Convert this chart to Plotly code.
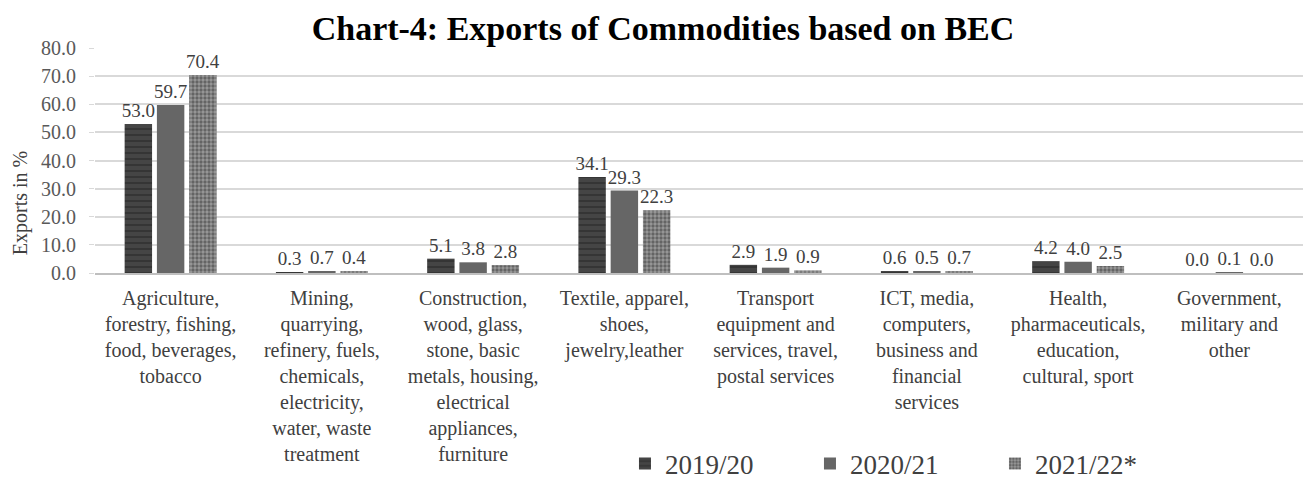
import plotly.graph_objects as go

categories = [
    "Agriculture,<br>forestry, fishing,<br>food, beverages,<br>tobacco",
    "Mining,<br>quarrying,<br>refinery, fuels,<br>chemicals,<br>electricity,<br>water, waste<br>treatment",
    "Construction,<br>wood, glass,<br>stone, basic<br>metals, housing,<br>electrical<br>appliances,<br>furniture",
    "Textile, apparel,<br>shoes,<br>jewelry,leather",
    "Transport<br>equipment and<br>services, travel,<br>postal services",
    "ICT, media,<br>computers,<br>business and<br>financial<br>services",
    "Health,<br>pharmaceuticals,<br>education,<br>cultural, sport",
    "Government,<br>military and<br>other",
]
y2019 = [53.0, 0.3, 5.1, 34.1, 2.9, 0.6, 4.2, 0.0]
y2020 = [59.7, 0.7, 3.8, 29.3, 1.9, 0.5, 4.0, 0.1]
y2021 = [70.4, 0.4, 2.8, 22.3, 0.9, 0.7, 2.5, 0.0]
series = ["2019/20", "2020/21", "2021/22*"]

serif = "Liberation Serif"
txt = dict(family=serif, size=19, color="#404040")

fig = go.Figure()
# 2019/20 - dark with horizontal streaks
fig.add_trace(go.Bar(
    x=categories, y=y2019, name=series[0],
    text=[f"{v:.1f}" for v in y2019], textposition="outside", textfont=txt,
    constraintext="none",
    marker=dict(color="#383838", line=dict(width=0),
                pattern=dict(shape="-", fgcolor="#202020", bgcolor="#454545",
                             size=6, solidity=0.3)),
    cliponaxis=False,
))
# 2020/21 - solid grey
fig.add_trace(go.Bar(
    x=categories, y=y2020, name=series[1],
    text=[f"{v:.1f}" for v in y2020], textposition="outside", textfont=txt,
    constraintext="none",
    marker=dict(color="#666666", line=dict(width=0)),
    cliponaxis=False,
))
# 2021/22* - speckled
fig.add_trace(go.Bar(
    x=categories, y=y2021, name=series[2],
    text=[f"{v:.1f}" for v in y2021], textposition="outside", textfont=txt,
    constraintext="none",
    marker=dict(color="#8a8a8a", line=dict(width=0),
                pattern=dict(shape=".", fgcolor="#2e2e2e", bgcolor="#9a9a9a",
                             size=4, solidity=0.55)),
    cliponaxis=False,
))

# page body has an 8px margin, so the figure is 8px smaller each way
fig.update_layout(
    width=1303, height=472,
    paper_bgcolor="white", plot_bgcolor="white",
    margin=dict(l=87, r=6, t=40, b=207),
    barmode="group", bargap=0.36, bargroupgap=0.15,
    title=dict(text="<b>Chart-4: Exports of Commodities based on BEC</b>",
               x=0.5027, xanchor="center", y=0.9576, yanchor="middle",
               font=dict(family=serif, size=34, color="#000000")),
    font=dict(family=serif, color="#404040"),
    showlegend=True,
    legend=dict(orientation="h", xref="container", yref="container",
                x=0.4735, xanchor="left", y=0.034, yanchor="middle",
                font=dict(family=serif, size=27, color="#404040"),
                entrywidth=140, entrywidthmode="pixels",
                itemwidth=30, traceorder="normal", bgcolor="rgba(0,0,0,0)"),
    annotations=[dict(text="Exports in %", textangle=-90,
                      xref="paper", yref="paper", x=-0.062, y=0.31,
                      xanchor="center", yanchor="middle", showarrow=False,
                      font=dict(family=serif, size=20, color="#404040"))],
)
fig.update_yaxes(
    range=[0, 80], dtick=10, tickformat=".1f", automargin=False,
    showgrid=True, gridcolor="#d9d9d9", gridwidth=1.5,
    ticks="outside", ticklen=5, tickcolor="#d9d9d9",
    tickfont=dict(family=serif, size=20, color="#595959"),
    ticklabelstandoff=9,
    zeroline=False, showline=False,
)
fig.update_xaxes(
    automargin=False,
    showline=True, linecolor="#bfbfbf", linewidth=1.5,
    tickfont=dict(family=serif, size=20, color="#404040"),
    ticklabelstandoff=6, tickangle=0,
)

fig.write_html("out.html")
